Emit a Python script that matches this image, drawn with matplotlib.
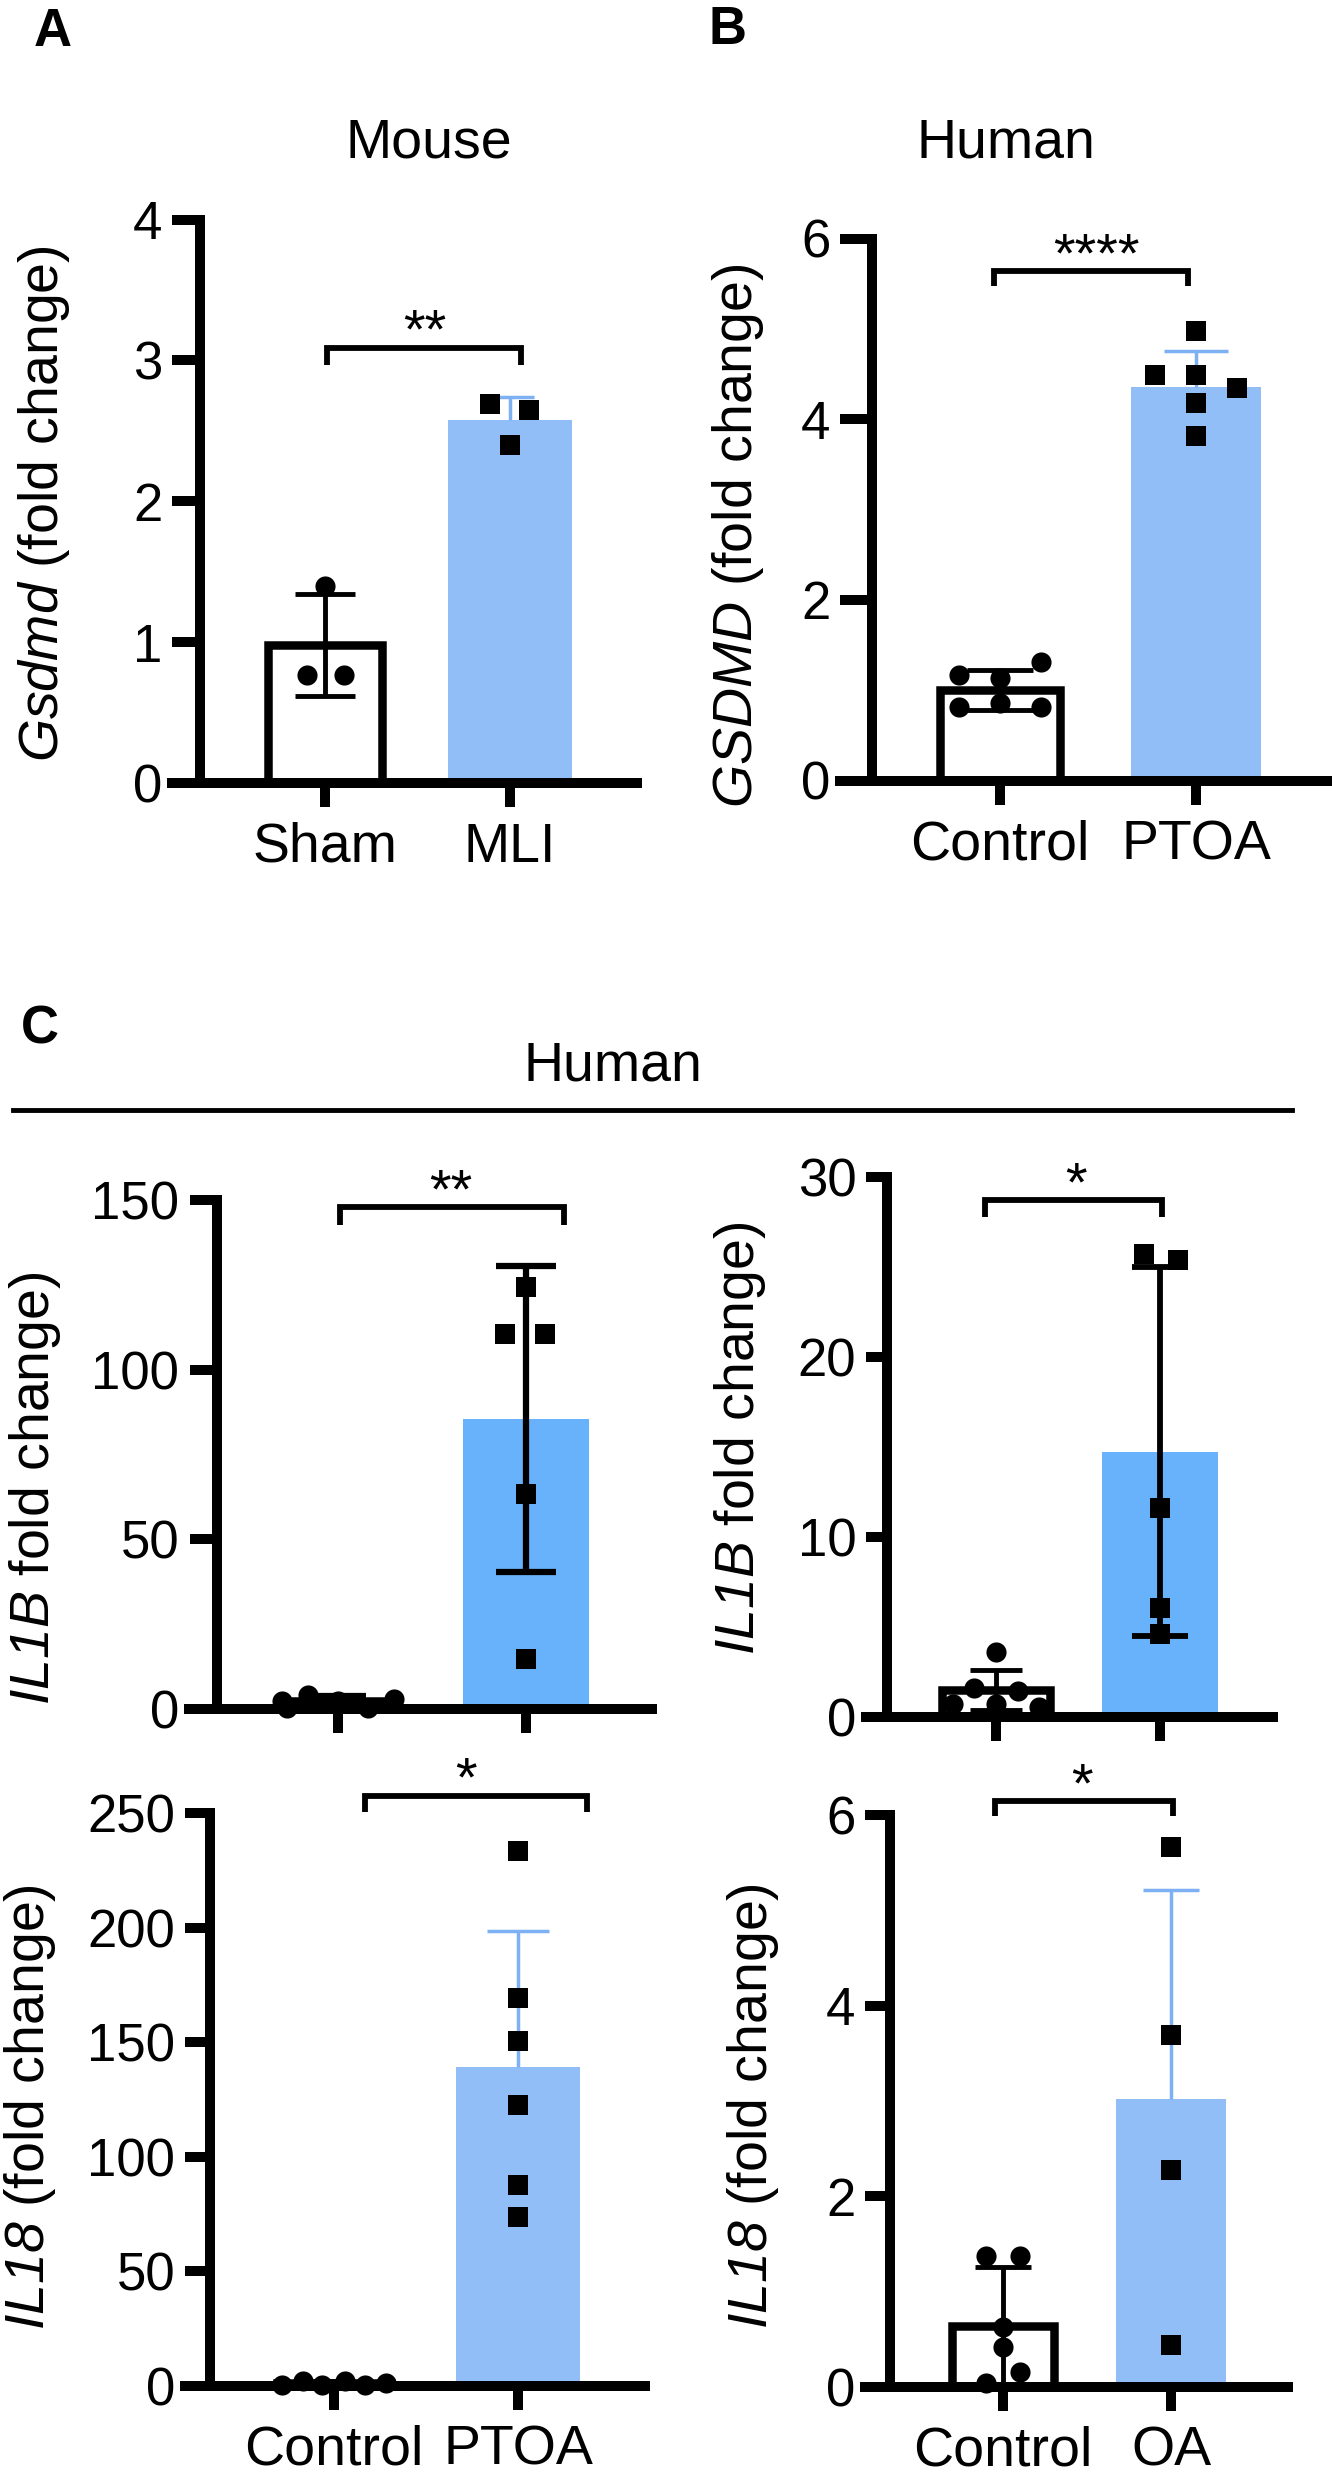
import matplotlib
matplotlib.use('Agg')
import matplotlib.pyplot as plt
from matplotlib.lines import Line2D

plt.rcParams['font.family'] = ['Liberation Sans', 'DejaVu Sans']
plt.rcParams['mathtext.fontset'] = 'custom'
# all math text (gene names) rendered in italic, including digits
plt.rcParams['mathtext.rm'] = 'Liberation Sans:italic'
plt.rcParams['mathtext.it'] = 'Liberation Sans:italic'
plt.rcParams['mathtext.bf'] = 'Liberation Sans:bold'

# ---------------- data ----------------
a_groups = ['Sham', 'MLI']
a_means = [0.98, 2.58]
a_sds = [0.36, 0.16]
a_ctrl_pts = [1.40, 0.77, 0.77]
a_ctrl_dx = [0.0, -0.10, 0.10]
a_trt_pts = [2.69, 2.65, 2.40]
a_trt_dx = [-0.11, 0.10, 0.0]
a_yticks = [0, 1, 2, 3, 4]

b_groups = ['Control', 'PTOA']
b_means = [1.00, 4.36]
b_sds = [0.22, 0.39]
b_ctrl_pts = [1.17, 1.14, 1.31, 0.81, 0.86, 0.81]
b_ctrl_dx = [-0.21, 0.0, 0.21, -0.21, 0.0, 0.21]
b_trt_pts = [4.98, 4.49, 4.49, 4.35, 4.18, 3.81]
b_trt_dx = [0.0, -0.21, 0.0, 0.21, 0.0, 0.0]
b_yticks = [0, 2, 4, 6]

c1_groups = ['', '']
c1_means = [2.3, 85.5]
c1_sds = [1.5, 45.0]
c1_ctrl_pts = [0.2, 4.0, 2.5, 0.2, 3.0, 2.5]
c1_ctrl_dx = [-0.27, -0.16, 0.0, 0.16, 0.30, -0.30]
c1_trt_pts = [124.3, 110.6, 110.6, 63.4, 14.8]
c1_trt_dx = [0.0, -0.11, 0.10, 0.0, 0.0]
c1_yticks = [0, 50, 100, 150]

c2_groups = ['', '']
c2_means = [1.5, 14.75]
c2_sds = [1.1, 10.25]
c2_ctrl_pts = [3.6, 1.6, 1.45, 0.7, 0.7, 0.58]
c2_ctrl_dx = [0.0, -0.135, 0.135, -0.26, 0.0, 0.26]
c2_trt_pts = [25.7, 25.4, 11.6, 6.05, 4.6]
c2_trt_dx = [-0.10, 0.11, 0.0, 0.0, 0.0]
c2_yticks = [0, 10, 20, 30]

c3_groups = ['Control', 'PTOA']
c3_means = [1.2, 139.3]
c3_sds = [0.9, 59.3]
c3_ctrl_pts = [0.3, 2.2, 0.3, 2.2, 0.3, 1.0]
c3_ctrl_dx = [-0.28, -0.17, -0.065, 0.06, 0.17, 0.28]
c3_trt_pts = [233.6, 169.3, 150.6, 122.8, 87.6, 73.5]
c3_trt_dx = [0.0, 0.0, 0.0, 0.0, 0.0, 0.0]
c3_yticks = [0, 50, 100, 150, 200, 250]

c4_groups = ['Control', 'OA']
c4_means = [0.64, 3.02]
c4_sds = [0.62, 2.20]
c4_ctrl_pts = [1.37, 1.37, 0.63, 0.42, 0.15, 0.04]
c4_ctrl_dx = [-0.10, 0.10, 0.0, 0.0, 0.10, -0.10]
c4_trt_pts = [5.67, 3.69, 2.27, 0.44]
c4_trt_dx = [0.0, 0.0, 0.0, 0.0]
c4_yticks = [0, 2, 4, 6]

# significance brackets: (x_left, x_right, y_top, y_end, star_x, label)
a_sig = (0.01, 1.06, 3.09, 2.97, 0.54, '**')
b_sig = (-0.03, 0.96, 5.64, 5.47, 0.49, '****')
c1_sig = (0.01, 1.20, 147.8, 142.5, 0.60, '**')
c2_sig = (-0.07, 1.01, 28.7, 27.8, 0.49, '*')
c3_sig = (0.17, 1.375, 257.7, 250.7, 0.72, '*')
c4_sig = (-0.05, 1.01, 6.15, 5.99, 0.47, '*')

# ---------------- styling ----------------
W, H = 1332, 2480
PX = 72.0 / 100.0  # points per pixel at dpi 100
LIGHT_BLUE = '#92BEF8'
MID_BLUE = '#68B2FC'
ERR_BLUE = '#7DB1F4'

fig = plt.figure(figsize=(W / 100, H / 100), dpi=100)


def fy(y):
    return 1 - y / H


def panel(layout, groups, means, sds, ctrl_pts, ctrl_dx, trt_pts, trt_dx,
          yticks, sig, trt_color, trt_err_color, trt_both, width,
          caps, err_lw, show_labels):
    x_start, x_end, yaxis_x, c0, c1, y_top, y_bot = layout
    ax = fig.add_axes([x_start / W, fy(y_bot), (x_end - x_start) / W,
                       (y_bot - y_top) / H])
    ppu = c1 - c0
    ax.set_xlim((x_start - c0) / ppu, (x_end - c0) / ppu)
    ax.set_ylim(0, yticks[-1])
    for s in ('top', 'right'):
        ax.spines[s].set_visible(False)
    for s in ('left', 'bottom'):
        ax.spines[s].set_linewidth(10 * PX)
    ax.spines['left'].set_position(('axes', (yaxis_x - x_start) / (x_end - x_start)))
    ax.set_yticks(yticks)
    ax.set_yticklabels([str(t) for t in yticks])
    ax.set_xticks([0, 1])
    ax.set_xticklabels(groups)
    ax.tick_params(axis='y', direction='out', length=(yaxis_x - x_start) * PX,
                   width=10 * PX, pad=7, labelsize=38)
    ax.tick_params(axis='x', direction='out', length=17, width=10 * PX,
                   pad=11, labelsize=40)
    edge = 8.5
    # control bar: white with black outline
    ax.bar([0], [means[0]], width - edge / ppu, color='white', edgecolor='black',
           linewidth=edge * PX, zorder=1)
    ax.bar([1], [means[1]], width, color=trt_color, linewidth=0, zorder=1)

    # error bars
    def err(x, m, sd, col, both, cap, lw):
        lo = m - sd if both else m
        ax.plot([x, x], [lo, m + sd], color=col, lw=lw, zorder=2,
                solid_capstyle='butt', clip_on=False)
        ax.plot([x], [m + sd], marker='_', ms=cap, mew=lw, color=col,
                zorder=2, clip_on=False)
        if both:
            ax.plot([x], [lo], marker='_', ms=cap, mew=lw, color=col,
                    zorder=2, clip_on=False)

    err(0, means[0], sds[0], 'black', True, caps[0], err_lw[0])
    err(1, means[1], sds[1], trt_err_color, trt_both, caps[1], err_lw[1])

    # points
    ax.plot([0 + d for d in ctrl_dx], ctrl_pts, 'o', ms=14.5, mew=0,
            color='black', zorder=4, clip_on=False)
    ax.plot([1 + d for d in trt_dx], trt_pts, 's', ms=14.5, mew=0,
            color='black', zorder=4, clip_on=False)

    # significance bracket
    xl, xr, yt, ye, sx, lab = sig
    ax.plot([xl, xl, xr, xr], [ye, yt, yt, ye], color='black', lw=4.2,
            clip_on=False, solid_joinstyle='miter', solid_capstyle='butt')
    ax.text(sx, yt, lab, ha='center', va='baseline', fontsize=40,
            clip_on=False)
    return ax


# layouts in pixels: x_start, x_end, yaxis_x, center0, center1, y_top, y_bottom
panel((172, 637, 200, 325, 510, 219.5, 783), a_groups, a_means, a_sds,
      a_ctrl_pts, a_ctrl_dx, a_trt_pts, a_trt_dx, a_yticks, a_sig,
      LIGHT_BLUE, ERR_BLUE, False, 0.665, (43, 34),
      (3.5, 2.5), True)
panel((840, 1330, 872, 1000, 1196, 238.5, 780.5), b_groups, b_means, b_sds,
      b_ctrl_pts, b_ctrl_dx, b_trt_pts, b_trt_dx, b_yticks, b_sig,
      LIGHT_BLUE, ERR_BLUE, False, 0.66, (48, 46), (3.5, 2.5), True)
panel((189, 652, 216.5, 338, 526, 1200, 1709), c1_groups, c1_means, c1_sds,
      c1_ctrl_pts, c1_ctrl_dx, c1_trt_pts, c1_trt_dx, c1_yticks, c1_sig,
      MID_BLUE, 'black', True, 0.675, (40, 43), (4.5, 4.5), False)
panel((866, 1273, 887, 996, 1160, 1177, 1717), c2_groups, c2_means, c2_sds,
      c2_ctrl_pts, c2_ctrl_dx, c2_trt_pts, c2_trt_dx, c2_yticks, c2_sig,
      MID_BLUE, 'black', True, 0.71, (38, 40), (3.5, 4.2), False)
panel((185, 645, 210, 334, 518, 1813.4, 2385.6), c3_groups, c3_means, c3_sds,
      c3_ctrl_pts, c3_ctrl_dx, c3_trt_pts, c3_trt_dx, c3_yticks, c3_sig,
      LIGHT_BLUE, ERR_BLUE, False, 0.67, (30, 44), (3.5, 2.5), True)
panel((865, 1288, 890, 1003, 1171, 1815.4, 2386.6), c4_groups, c4_means, c4_sds,
      c4_ctrl_pts, c4_ctrl_dx, c4_trt_pts, c4_trt_dx, c4_yticks, c4_sig,
      LIGHT_BLUE, ERR_BLUE, False, 0.66, (40, 40), (3.5, 2.5), True)

# y labels (gene names italic via math text)
ylabels = [
    (r'$\mathrm{Gsdmd}$ (fold change)', 44, 504),
    (r'$\mathrm{GSDMD}$ (fold change)', 738, 536),
    (r'$\mathrm{IL1B}$ fold change)', 35, 1488),
    (r'$\mathrm{IL1B}$ fold change)', 740, 1438),
    (r'$\mathrm{IL18}$ (fold change)', 30, 2107),
    (r'$\mathrm{IL18}$ (fold change)', 753, 2106),
]
for txt, cx, cy in ylabels:
    fig.text(cx / W, fy(cy), txt, rotation=90, ha='center', va='center',
             fontsize=40)

# titles and panel letters
fig.text(429 / W, fy(157), 'Mouse', ha='center', va='baseline', fontsize=40)
fig.text(1006 / W, fy(157), 'Human', ha='center', va='baseline', fontsize=40)
fig.text(613 / W, fy(1080), 'Human', ha='center', va='baseline', fontsize=40)
fig.text(34 / W, fy(46), 'A', ha='left', va='baseline', fontsize=38,
         fontweight='bold')
fig.text(708 / W, fy(44), 'B', ha='left', va='baseline', fontsize=38,
         fontweight='bold')
fig.text(21 / W, fy(1043), 'C', ha='left', va='baseline', fontsize=38,
         fontweight='bold')
fig.add_artist(Line2D([13 / W, 1292 / W], [fy(1110), fy(1110)], lw=3.5,
                      color='black'))

fig.savefig('out.png', dpi=100)
